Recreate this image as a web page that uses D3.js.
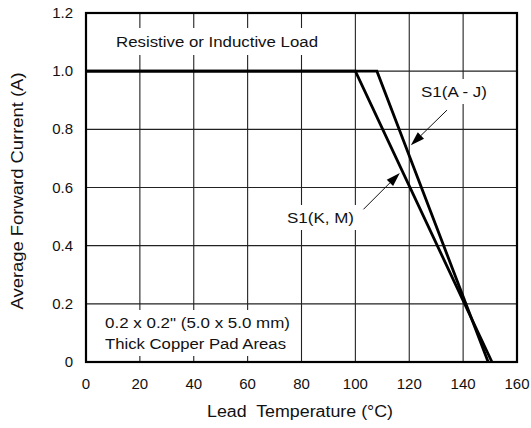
<!DOCTYPE html>
<html><head><meta charset="utf-8">
<script src="https://cdn.jsdelivr.net/npm/d3@7"></script>
<style>
body{margin:0;background:#fff;}
text{font-family:"Liberation Sans",Arial,Helvetica,sans-serif;fill:#111;}
</style></head>
<body><svg id="c" width="531" height="428"></svg>
<script>
const xTicks = [0,20,40,60,80,100,120,140,160];
const yTicks = [0,0.2,0.4,0.6,0.8,1.0,1.2];
const yTickLabels = ["0","0.2","0.4","0.6","0.8","1.0","1.2"];
const seriesAJ = [[0,1.0],[108,1.0],[149.3,0]];
const seriesKM = [[0,1.0],[100,1.0],[150.7,0]];
const labelAJ = "S1(A - J)";
const labelKM = "S1(K, M)";
const noteTop = "Resistive or Inductive Load";
const noteBottom = ["0.2 x 0.2\" (5.0 x 5.0 mm)", "Thick Copper Pad Areas"];
const xTitle = "Lead  Temperature (°C)";
const yTitle = "Average Forward Current (A)";
const arrowAJ = [[134,0.866],[120.6,0.745]];
const arrowKM = [[103,0.525],[116.5,0.65]];

const L=86,R=517,T=13,B=362;
const svg=d3.select("#c");
const x=d3.scaleLinear().domain([0,160]).range([L,R]);
const y=d3.scaleLinear().domain([0,1.2]).range([B,T]);

const g=svg.append("g");
g.selectAll(".vg").data(xTicks.slice(1,-1)).join("line")
 .attr("x1",d=>x(d)).attr("x2",d=>x(d)).attr("y1",T).attr("y2",B)
 .attr("stroke","#222").attr("stroke-width",1.1);
g.selectAll(".hg").data(yTicks.slice(1,-1)).join("line")
 .attr("y1",d=>y(d)).attr("y2",d=>y(d)).attr("x1",L).attr("x2",R)
 .attr("stroke","#222").attr("stroke-width",1.1);

function note(lines,x0,y0,dy,pad,w){
  const gg=svg.append("g");
  const r=gg.append("rect").attr("fill","#fff");
  const t=gg.append("text").attr("font-size",15.5).attr("x",x0).attr("y",y0);
  lines.forEach((s,i)=>{
    const ts=t.append("tspan").attr("x",x0).attr("y",y0+i*dy).text(s);
    if(w) ts.attr("textLength",w[i]).attr("lengthAdjust","spacingAndGlyphs");
  });
  const bb=t.node().getBBox();
  r.attr("x",bb.x-pad[0]).attr("y",bb.y-pad[1]).attr("width",bb.width+2*pad[0]).attr("height",bb.height+2*pad[1]);
  return gg;
}
note([noteTop],116,47,0,[6,5],[202]);
note(noteBottom,105,328,21,[6,4],[185,181]);
note([labelAJ],421,97,0,[4,4],[66]);
note([labelKM],287,223,0,[4,4],[67]);

const line=d3.line().x(d=>x(d[0])).y(d=>y(d[1]));
[seriesAJ,seriesKM].forEach(s=>{
  svg.append("path").attr("d",line(s)).attr("fill","none")
   .attr("stroke","#000").attr("stroke-width",2.8).attr("stroke-linejoin","miter");
});

function arrow(a){
  const x1=x(a[0][0]),y1=y(a[0][1]),x2=x(a[1][0]),y2=y(a[1][1]);
  const ang=Math.atan2(y2-y1,x2-x1),hl=14,hw=4.5;
  const bx=x2-hl*Math.cos(ang),by=y2-hl*Math.sin(ang);
  svg.append("line").attr("x1",x1).attr("y1",y1).attr("x2",bx).attr("y2",by)
   .attr("stroke","#111").attr("stroke-width",1);
  const px=-Math.sin(ang)*hw,py=Math.cos(ang)*hw;
  svg.append("path").attr("d",`M${x2},${y2}L${bx+px},${by+py}L${bx-px},${by-py}Z`).attr("fill","#000");
}
arrow(arrowAJ);arrow(arrowKM);

svg.append("rect").attr("x",L).attr("y",T).attr("width",R-L).attr("height",B-T)
 .attr("fill","none").attr("stroke","#000").attr("stroke-width",2.2);

svg.selectAll(".xt").data(xTicks).join("text")
 .attr("x",d=>x(d)).attr("y",389).attr("text-anchor","middle").attr("font-size",15).text(d=>d);
svg.selectAll(".yt").data(yTicks).join("text")
 .attr("x",73).attr("y",d=>y(d)+5).attr("text-anchor","end").attr("font-size",15).text((d,i)=>yTickLabels[i]);

svg.append("text").attr("x",300).attr("y",417).attr("text-anchor","middle").attr("font-size",16)
 .attr("textLength",186).attr("lengthAdjust","spacingAndGlyphs")
 .style("white-space","pre").text(xTitle);
svg.append("text").attr("transform","translate(23,191) rotate(-90)").attr("text-anchor","middle")
 .attr("font-size",16).attr("textLength",237).attr("lengthAdjust","spacingAndGlyphs").text(yTitle);
</script></body></html>
